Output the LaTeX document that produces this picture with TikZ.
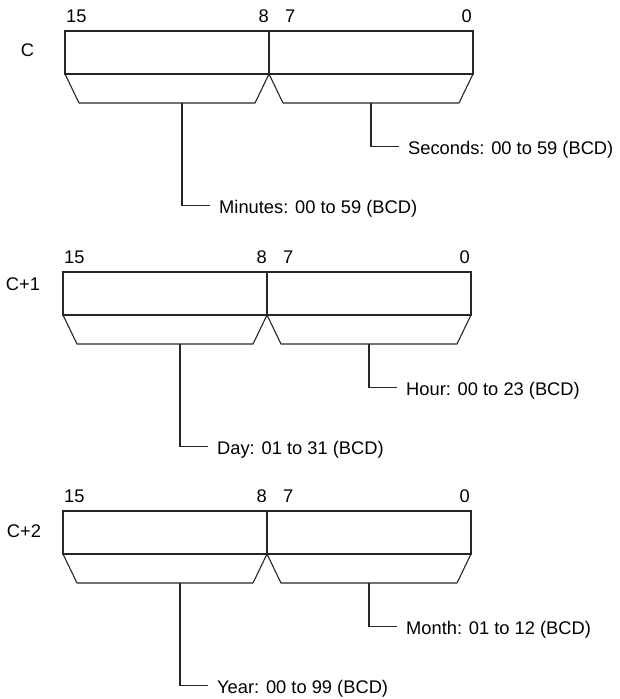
\documentclass[tikz,border=0pt]{standalone}
\usepackage{fontspec}
\setmainfont{Liberation Sans}
\begin{document}
\begin{tikzpicture}[x=1pt,y=-1pt,
  wire/.style={line width=1.1pt,draw=black!85,line join=miter},
  bitnum/.style={inner sep=0pt,font=\fontsize{18.3}{22}\selectfont},
  lbl/.style={inner sep=0pt,anchor=base west,font=\fontsize{18.3}{22}\selectfont},
  reglbl/.style={inner sep=0pt,font=\fontsize{18.3}{22}\selectfont}]
\useasboundingbox (0,0) rectangle (619,699);
% #1 prefix, #2 L, #3 T, #4 register label, #5 label x, #6 label y, #7 right text, #8 left text
\newcommand\regblock[8]{%
  \draw[wire] ({#2},{#3}) rectangle ({#2+408},{#3+43});
  \draw[wire] ({#2+204},{#3}) -- ({#2+204},{#3+43});
  \draw[wire] ({#2},{#3+43}) -- ({#2+14},{#3+72}) -- ({#2+190},{#3+72}) -- ({#2+204},{#3+43})
     -- ({#2+218},{#3+72}) -- ({#2+394},{#3+72}) -- ({#2+408},{#3+43});
  \node[bitnum,anchor=base west] (#1b15) at ({#2+1},{#3-8.5}) {15};
  \node[bitnum,anchor=base east] (#1b8) at ({#2+204},{#3-8.5}) {8};
  \node[bitnum,anchor=base west] (#1b7) at ({#2+220},{#3-8.5}) {7};
  \node[bitnum,anchor=base east] (#1b0) at ({#2+407},{#3-8.5}) {0};
  \node[reglbl] (#1reg) at ({#5},{#6}) {#4};
  \coordinate (#1rs) at ({#2+306},{#3+72});
  \coordinate (#1re) at ({#2+334},{#3+115.5});
  \coordinate (#1ls) at ({#2+117},{#3+72});
  \coordinate (#1le) at ({#2+145},{#3+174.5});
  \node[lbl] (#1rl) at ({#2+343},{#3+123}) {#7};
  \node[lbl] (#1ll) at ({#2+154},{#3+182}) {#8};
  \draw[wire] (#1rs) |- (#1re);
  \draw[wire] (#1ls) |- (#1le);
}
\regblock{a}{65}{31}{C}{27.5}{50.5}{Seconds: 00 to 59 (BCD)}{Minutes: 00 to 59 (BCD)}
\regblock{b}{63}{272}{C+1}{23}{284}{Hour: 00 to 23 (BCD)}{Day: 01 to 31 (BCD)}
\regblock{c}{63}{511}{C+2}{24}{531}{Month: 01 to 12 (BCD)}{Year: 00 to 99 (BCD)}
\end{tikzpicture}
\end{document}
